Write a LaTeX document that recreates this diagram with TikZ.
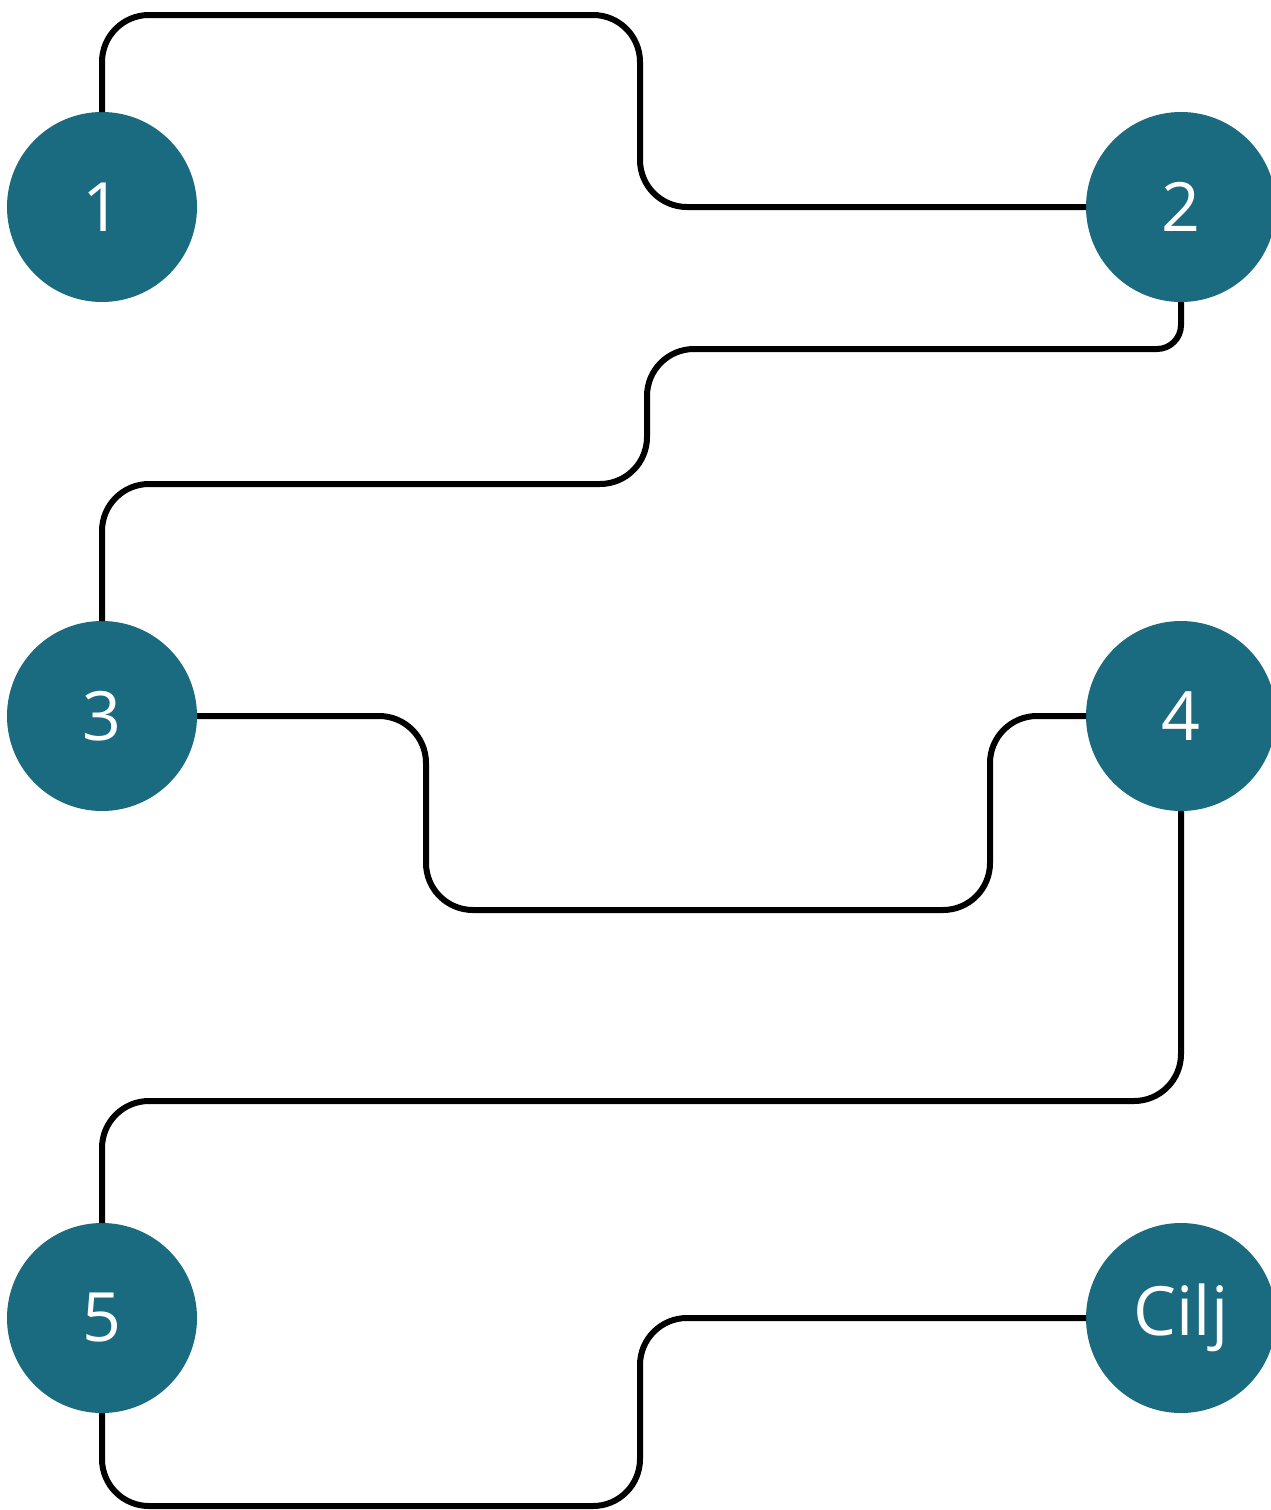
\documentclass[tikz,border=0pt]{standalone}
\usepackage{fontspec}
\setmainfont{Open Sans}
\definecolor{teal1}{HTML}{1A6A80}
\begin{document}
\begin{tikzpicture}[x=1pt,y=-1pt,
  stepnode/.style={circle,fill=teal1,draw=none,minimum size=190pt,inner sep=0pt,outer sep=0pt,text=white,font=\fontsize{68}{74}\selectfont},
  conn/.style={line width=6pt,black,rounded corners=47pt}]
\useasboundingbox (0,0) rectangle (1271,1510);
\node[stepnode] (n1) at (102,207) {1};
\node[stepnode] (n2) at (1181,207) {2};
\node[stepnode] (n3) at (102,716) {3};
\node[stepnode] (n4) at (1181,716) {4};
\node[stepnode] (n5) at (102,1318) {5};
\node[stepnode] (n6) at (1181,1318) {Cilj};
\draw[conn] (n1.north) -- (102,15) -- (640,15) -- (640,207) -- (n2.west);
\draw[conn,rounded corners=24pt] (n2.south) -- (1181,349) [rounded corners=47pt] -- (647,349) -- (647,484) -- (102,484) -- (n3.north);
\draw[conn] (n3.east) -- (426,716) -- (426,910) -- (990,910) -- (990,716) -- (n4.west);
\draw[conn] (n4.south) -- (1181,1101) -- (102,1101) -- (n5.north);
\draw[conn] (n5.south) -- (102,1506) -- (640,1506) -- (640,1318) -- (n6.west);
\end{tikzpicture}
\end{document}
